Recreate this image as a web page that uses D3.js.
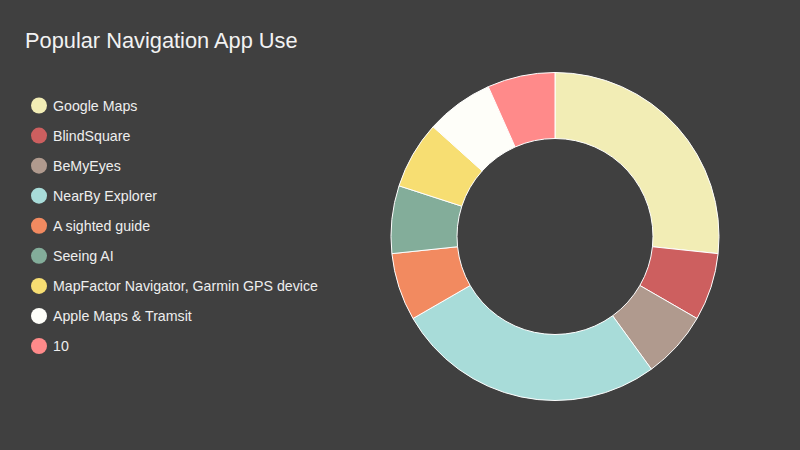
<!DOCTYPE html>
<html><head><meta charset="utf-8">
<script src="https://cdn.jsdelivr.net/npm/d3@7"></script>
<style>html,body{margin:0;padding:0;background:#404040;}svg{display:block;font-family:"Liberation Sans",Arial,sans-serif;}</style>
</head><body>
<svg id="c" width="800" height="450"></svg>
<script>
const categories = ["Google Maps","BlindSquare","BeMyEyes","NearBy Explorer","A sighted guide","Seeing AI","MapFactor Navigator, Garmin GPS device","Apple Maps & Tramsit","10"];
const values = [4,1,1,4,1,1,1,1,1];
const colors = ["#f2edb5","#cd5f5f","#b09a8e","#a8dcd9","#f28a60","#83ad9a","#f7de72","#fefef9","#ff8a8a"];

const svg = d3.select("#c");
svg.append("rect").attr("width",800).attr("height",450).attr("fill","#404040");
svg.append("text").attr("x",25).attr("y",47.5).attr("fill","#f2f2f2").attr("font-size",21.8).text("Popular Navigation App Use");

const data = categories.map((c,i)=>({c, v:values[i], col:colors[i]}));
const pie = d3.pie().value(d=>d.v).sort(null);
const arc = d3.arc().innerRadius(98).outerRadius(164);
const g = svg.append("g").attr("transform","translate(555,236.5)");
g.selectAll("path").data(pie(data)).join("path")
  .attr("d",arc).attr("fill",d=>d.data.col).attr("stroke","#ffffff").attr("stroke-width",1);

const y = d3.scalePoint().domain(categories).range([105.5,346]);
const lg = svg.append("g");
const items = lg.selectAll("g").data(data).join("g").attr("transform",d=>`translate(0,${y(d.c)})`);
items.append("circle").attr("cx",39).attr("cy",0).attr("r",8).attr("fill",d=>d.col);
items.append("text").attr("x",53).attr("y",5).attr("fill","#eeeeee").attr("font-size",14.2).text(d=>d.c);
</script>
</body></html>
